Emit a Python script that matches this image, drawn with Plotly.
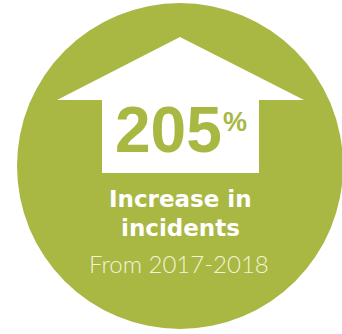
import plotly.graph_objects as go

# Data / text content
stat_value = ["205"]
stat_unit = ["%"]
label_lines = ["Increase in", "incidents"]
period_label = ["From 2017-2018"]

GREEN = "#A9B843"
W, H = 342, 334

fig = go.Figure()

# circle badge and arrow
fig.add_shape(type="circle", xref="x", yref="y", x0=17, y0=3, x1=343, y1=329,
              fillcolor=GREEN, line=dict(width=0), layer="below")
fig.add_shape(type="path", xref="x", yref="y",
              path="M 180 37 L 304 100 L 259 100 L 259 173 L 102 173 L 102 100 L 57 100 Z",
              fillcolor="white", line=dict(width=0), layer="below")

fig.add_annotation(x=168, y=130, text=f"<b>{stat_value[0]}</b>", showarrow=False,
                   xanchor="center", yanchor="middle",
                   font=dict(family="Liberation Sans", size=64, color=GREEN))
fig.add_annotation(x=235, y=122, text=f"<b>{stat_unit[0]}</b>", showarrow=False,
                   xanchor="center", yanchor="middle",
                   font=dict(family="Liberation Sans", size=27, color=GREEN))
fig.add_annotation(x=180, y=199, text=f"<b>{label_lines[0]}</b>", showarrow=False,
                   xanchor="center", yanchor="middle",
                   font=dict(family="DejaVu Sans", size=23, color="white"))
fig.add_annotation(x=180, y=228, text=f"<b>{label_lines[1]}</b>", showarrow=False,
                   xanchor="center", yanchor="middle",
                   font=dict(family="DejaVu Sans", size=23, color="white"))
fig.add_annotation(x=179, y=263, text=period_label[0], showarrow=False,
                   xanchor="center", yanchor="middle",
                   font=dict(family="Lato", size=24, weight=300, color="#F2F3D6"))

fig.update_xaxes(range=[0, W], visible=False, fixedrange=True)
fig.update_yaxes(range=[H, 0], visible=False, fixedrange=True)
fig.update_layout(width=W, height=H, autosize=False,
                  margin=dict(l=0, r=0, t=0, b=0, pad=0),
                  paper_bgcolor="white", plot_bgcolor="white",
                  showlegend=False)

fig.write_html("out.html", config={"displayModeBar": False})
